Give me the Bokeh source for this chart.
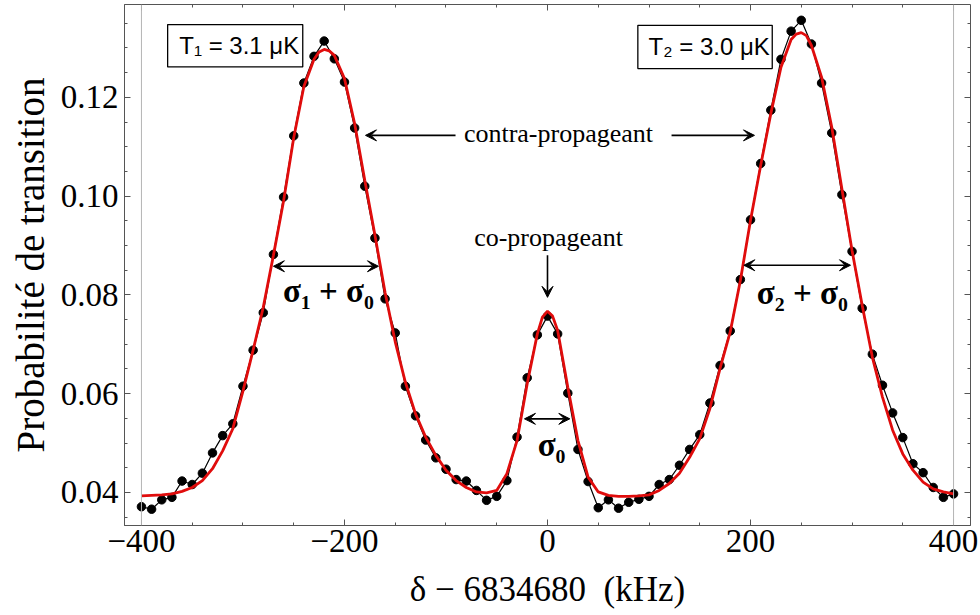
from bokeh.plotting import figure
from bokeh.models import (Range1d, LinearAxis, Span, Label, Arrow, VeeHead, BoxAnnotation,
                          FixedTicker, PrintfTickFormatter, CustomJSTickFormatter)
from bokeh.embed import file_html
from bokeh.resources import INLINE

# ---------------- data ----------------
freq_khz = [-400, -390, -380, -370, -360, -350, -340, -330, -320, -310,
            -300, -290, -280, -270, -260, -250, -240, -230, -220, -210,
            -200, -190, -180, -170, -160, -150, -140, -130, -120, -110,
            -100, -90, -80, -70, -60, -50, -40, -30, -20, -10,
            0, 10, 20, 30, 40, 50, 60, 70, 80, 90,
            100, 110, 120, 130, 140, 150, 160, 170, 180, 190,
            200, 210, 220, 230, 240, 250, 260, 270, 280, 290,
            300, 310, 320, 330, 340, 350, 360, 370, 380, 390, 400]
prob_measured = [0.0371, 0.0366, 0.0385, 0.0390, 0.0423, 0.0416, 0.0439, 0.0480, 0.0515, 0.0539,
                 0.0615, 0.0688, 0.0764, 0.0882, 0.0998, 0.1122, 0.1229, 0.1283, 0.1314, 0.1278,
                 0.1231, 0.1138, 0.1020, 0.0915, 0.0792, 0.0723, 0.0615, 0.0555, 0.0506, 0.0470,
                 0.0447, 0.0426, 0.0423, 0.0404, 0.0384, 0.0392, 0.0424, 0.0512, 0.0632, 0.0719,
                 0.0757, 0.0721, 0.0601, 0.0487, 0.0422, 0.0369, 0.0385, 0.0368, 0.0380, 0.0386,
                 0.0392, 0.0416, 0.0426, 0.0455, 0.0487, 0.0517, 0.0581, 0.0657, 0.0727, 0.0831,
                 0.0952, 0.1066, 0.1174, 0.1277, 0.1334, 0.1356, 0.1308, 0.1229, 0.1128, 0.1003,
                 0.0888, 0.0773, 0.0680, 0.0617, 0.0561, 0.0511, 0.0458, 0.0440, 0.0410, 0.0390, 0.0397]

fit_khz = [-400, -390, -380, -370, -360, -350, -340, -330, -320, -310,
           -300, -290, -280, -270, -260, -250, -240, -230, -225, -220, -215, -210,
           -200, -190, -180, -170, -160, -150, -140, -130, -120, -110,
           -100, -90, -80, -70, -60, -50, -40, -30, -20, -10, -5,
           0, 5, 10, 20, 30, 40, 50, 60, 70, 80, 90,
           100, 110, 120, 130, 140, 150, 160, 170, 180, 190,
           200, 210, 220, 230, 240, 245, 250, 255, 260, 270, 280, 290,
           300, 310, 320, 330, 340, 350, 360, 370, 380, 390, 400]
fit_prob = [0.0393, 0.0394, 0.0395, 0.0397, 0.0402, 0.0410, 0.0424, 0.0448, 0.0484, 0.0529,
            0.0605, 0.0688, 0.0775, 0.0880, 0.0990, 0.1118, 0.1222, 0.1277, 0.1292, 0.1297, 0.1294, 0.1285,
            0.1238, 0.1147, 0.1032, 0.0921, 0.0805, 0.0705, 0.0623, 0.0559, 0.0512, 0.0475,
            0.0445, 0.0424, 0.0410, 0.0401, 0.0399, 0.0404, 0.0438, 0.0505, 0.0620, 0.0721, 0.0755,
            0.0767, 0.0757, 0.0728, 0.0613, 0.0505, 0.0431, 0.0401, 0.0394, 0.0392, 0.0392, 0.0393,
            0.0395, 0.0404, 0.0418, 0.0439, 0.0471, 0.0509, 0.0570, 0.0651, 0.0725, 0.0829,
            0.0951, 0.1062, 0.1167, 0.1261, 0.1317, 0.1328, 0.1331, 0.1325, 0.1305, 0.1241, 0.1140, 0.1015,
            0.0890, 0.0779, 0.0674, 0.0593, 0.0526, 0.0478, 0.0445, 0.0421, 0.0407, 0.0401, 0.0397]

x_ticks = [-400, -200, 0, 200, 400]
x_tick_labels = ["\u2212400", "\u2212200", "0", "200", "400"]
x_minor_ticks = [-400, -350, -300, -250, -200, -150, -100, -50, 0,
                 50, 100, 150, 200, 250, 300, 350, 400]
y_ticks = [0.04, 0.06, 0.08, 0.10, 0.12]
y_minor_ticks = [0.035, 0.040, 0.045, 0.050, 0.055, 0.060, 0.065, 0.070, 0.075,
                 0.080, 0.085, 0.090, 0.095, 0.100, 0.105, 0.110, 0.115, 0.120,
                 0.125, 0.130, 0.135]

x_title = "\u03b4 \u2212 6834680 \u00a0(kHz)"
y_title = "Probabilit\u00e9 de transition"

SERIF = "Liberation Serif"
SANS = "Liberation Sans"
FRAME = "#555555"

p = figure(width=980, height=615, output_backend="svg", toolbar_location=None,
           x_range=Range1d(-416.7, 416.7), y_range=Range1d(0.0333, 0.1388),
           min_border_left=124, min_border_right=10, min_border_top=4,
           min_border_bottom=90)
p.grid.visible = False
p.outline_line_color = FRAME
p.outline_line_width = 1
p.background_fill_color = "white"
p.border_fill_color = "white"

# bottom axis
xa = p.xaxis[0]
xa.ticker = FixedTicker(ticks=x_ticks, minor_ticks=x_minor_ticks)
xa.major_label_overrides = dict(zip(x_ticks, x_tick_labels))
xa.major_label_text_font = SERIF
xa.major_label_text_font_size = "33px"
xa.major_label_text_color = "black"
xa.major_label_standoff = 4
xa.axis_label = x_title
xa.axis_label_text_font = SERIF
xa.axis_label_text_font_size = "35px"
xa.axis_label_text_font_style = "normal"
xa.axis_label_text_color = "black"
xa.axis_label_standoff = 15

# left axis
ya = p.yaxis[0]
ya.ticker = FixedTicker(ticks=y_ticks, minor_ticks=y_minor_ticks)
ya.formatter = PrintfTickFormatter(format="%.2f")
ya.axis_label = y_title
ya.major_label_text_font = SERIF
ya.major_label_text_font_size = "33px"
ya.major_label_text_color = "black"
ya.major_label_standoff = 6
ya.axis_label_text_font = SERIF
ya.axis_label_text_font_size = "39px"
ya.axis_label_text_font_style = "normal"
ya.axis_label_text_color = "black"
ya.axis_label_standoff = 6

for ax in (xa, ya):
    ax.axis_line_color = FRAME
    ax.major_tick_line_color = FRAME
    ax.minor_tick_line_color = FRAME
    ax.major_tick_in = 6
    ax.major_tick_out = 0
    ax.minor_tick_in = 3
    ax.minor_tick_out = 0

# top and right axes: ticks only
blank = CustomJSTickFormatter(code="return '';")
top = LinearAxis(ticker=FixedTicker(ticks=x_ticks, minor_ticks=x_minor_ticks), formatter=blank)
right = LinearAxis(ticker=FixedTicker(ticks=y_ticks, minor_ticks=y_minor_ticks), formatter=blank)
for ax in (top, right):
    ax.major_label_text_font_size = "1px"
    ax.major_label_standoff = 0
    ax.axis_line_color = None
    ax.major_tick_line_color = FRAME
    ax.minor_tick_line_color = FRAME
    ax.major_tick_in = 6
    ax.major_tick_out = 0
    ax.minor_tick_in = 3
    ax.minor_tick_out = 0
p.add_layout(top, "above")
p.add_layout(right, "right")

# thin grey verticals at the scan limits
for loc in (x_ticks[0], x_ticks[-1]):
    p.add_layout(Span(location=loc, dimension="height", line_color="#b4b4b4", line_width=1))

# measured data
p.line(freq_khz, prob_measured, line_color="black", line_width=1.2)
p.scatter(freq_khz, prob_measured, size=8.5, fill_color="black", line_color="black")
# fit
p.line(fit_khz, fit_prob, line_color="#e00c0c", line_width=2.8)

# temperature boxes (frame + text)
boxes = [(-374.2, -241.1, 0.13473, 0.12615, "T\u2081 = 3.1 \u03bcK", -303.7, 0.1304),
         (89.0, 221.4, 0.13459, 0.12582, "T\u2082 = 3.0 \u03bcK", 159.3, 0.1302)]
for l, r, t, b, txt, xc, yc in boxes:
    p.add_layout(BoxAnnotation(left=l, right=r, top=t, bottom=b, fill_color="white",
                               fill_alpha=1.0, line_color="black", line_width=1.3,
                               line_alpha=1.0, level="annotation"))
    p.add_layout(Label(x=xc, y=yc, text=txt, text_font=SANS, text_font_size="24px",
                       text_align="center", text_baseline="middle", text_color="black"))

# text annotations
def note(txt, xc, yc, size, style="normal"):
    p.add_layout(Label(x=xc, y=yc, text=txt, text_font=SERIF, text_font_size=size,
                       text_font_style=style, text_align="center", text_baseline="middle",
                       text_color="black"))

note("contra-propageant", 10.8, 0.1127, "26px")
note("co-propageant", 1.0, 0.0917, "26px")
note("\u03c3\u2081 + \u03c3\u2080", -215.8, 0.0807, "33px", "bold")
note("\u03c3\u2082 + \u03c3\u2080", 251.0, 0.0803, "33px", "bold")
note("\u03c3\u2080", 4.0, 0.0497, "33px", "bold")

def arrow(x0, y0, x1, y1, both=False):
    head = lambda: VeeHead(size=11, fill_color="black", line_color="black", line_width=1)
    p.add_layout(Arrow(x_start=x0, y_start=y0, x_end=x1, y_end=y1,
                       end=head(), start=head() if both else None,
                       line_color="black", line_width=1.6))

arrow(-90.6, 0.1123, -179.3, 0.1123)
arrow(122.2, 0.1123, 203.9, 0.1123)
arrow(0.0, 0.0880, 0.0, 0.0795)
arrow(-270.0, 0.0858, -166.5, 0.0858, both=True)
arrow(193.4, 0.0860, 298.5, 0.0860, both=True)
arrow(-22.7, 0.0549, 22.0, 0.0549, both=True)

open("out.html", "w").write(file_html(p, INLINE))
